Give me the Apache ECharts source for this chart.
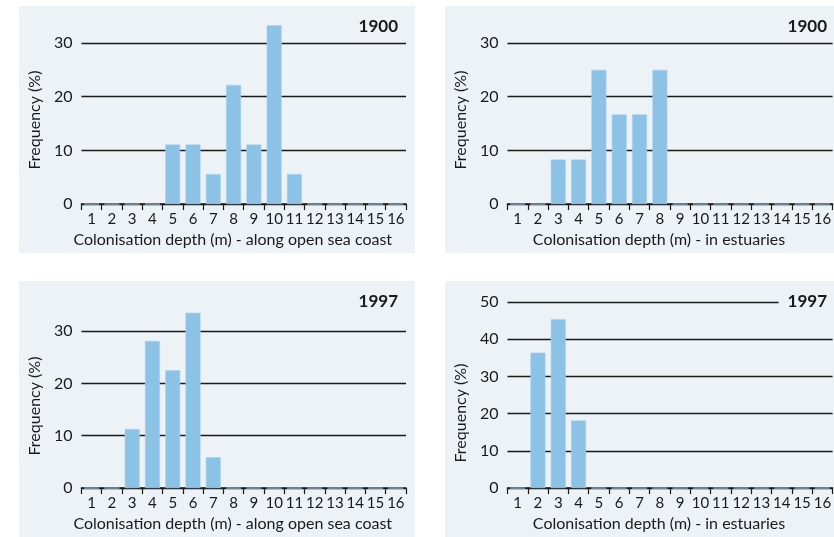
<!DOCTYPE html>
<html>
<head>
<meta charset="utf-8">
<script src="https://cdn.jsdelivr.net/npm/echarts@6/dist/echarts.min.js"></script>
<style>
  html, body { margin: 0; padding: 0; background: #fff; }
  body { width: 834px; height: 537px; position: relative; overflow: hidden; }
  .panel { position: absolute; background: #edf2f7; }
</style>
</head>
<body>
<div id="tl" class="panel" style="left:19px;top:6px;width:396px;height:247px"></div>
<div id="tr" class="panel" style="left:445px;top:6px;width:389px;height:247px"></div>
<div id="bl" class="panel" style="left:19px;top:281px;width:396px;height:256px"></div>
<div id="br" class="panel" style="left:445px;top:281px;width:389px;height:256px"></div>
<script>
// depth classes (m)
const depths = ['1', '2', '3', '4', '5', '6', '7', '8', '9', '10', '11', '12', '13', '14', '15', '16']

// frequency (%) per depth class
const seaCoast1900 = [0, 0, 0, 0, 11.1, 11.1, 5.6, 22.2, 11.1, 33.3, 5.6, 0, 0, 0, 0, 0]
const estuaries1900 = [0, 0, 8.3, 8.3, 25, 16.7, 16.7, 25, 0, 0, 0, 0, 0, 0, 0, 0]
const seaCoast1997 = [0, 0, 11.3, 28.1, 22.5, 33.5, 5.9, 0, 0, 0, 0, 0, 0, 0, 0, 0]
const estuaries1997 = [0, 36.4, 45.4, 18.2, 0, 0, 0, 0, 0, 0, 0, 0, 0, 0, 0, 0]

const coastName = 'Colonisation depth (m) - along open sea coast'
const estuaryName = 'Colonisation depth (m) - in estuaries'

const FONT = 'Lato, "Open Sans", sans-serif'
const BG = '#edf2f7'

function makeChart(id, cfg) {
  const chart = echarts.init(document.getElementById(id))
  chart.setOption({
    animation: false,
    backgroundColor: BG,
    textStyle: { fontFamily: FONT },
    title: {
      text: cfg.year,
      right: 0,
      top: cfg.titleTop,
      padding: [2, cfg.titleRight, 2, 9],
      backgroundColor: BG,
      textStyle: { fontFamily: FONT, fontSize: 17, fontWeight: 'bold', color: '#1a1a1a', lineHeight: 16 }
    },
    grid: cfg.grid,
    xAxis: {
      type: 'category',
      data: depths,
      name: cfg.xName,
      nameLocation: 'middle',
      nameGap: 24,
      nameTextStyle: { fontSize: 16, color: '#1a1a1a', padding: [0, 22, 0, 0] },
      axisLine: { lineStyle: { color: '#1a1a1a', width: 1.5 } },
      axisTick: { show: true, length: 6, lineStyle: { color: '#1a1a1a', width: 1.2 } },
      axisLabel: { color: '#1a1a1a', fontSize: 15, margin: 8, interval: 0 }
    },
    yAxis: {
      type: 'value',
      min: 0,
      max: cfg.yMax,
      interval: 10,
      name: 'Frequency (%)',
      nameLocation: 'middle',
      nameGap: cfg.yNameGap,
      nameTextStyle: { fontSize: 16, color: '#1a1a1a', padding: cfg.yNamePad },
      axisLine: { show: false },
      axisTick: { show: false },
      axisLabel: { color: '#1a1a1a', fontSize: 16, margin: 9 },
      splitLine: { lineStyle: { color: '#1a1a1a', width: 1.3 } }
    },
    series: [{
      type: 'bar',
      data: cfg.values,
      barWidth: 15,
      clip: false,
      itemStyle: { color: '#8cc2e5', borderColor: '#a9d2ee', borderWidth: 0.6 }
    }]
  })
}

makeChart('tl', {
  year: '1900', titleTop: 11, titleRight: 17,
  grid: { left: 59, right: 9, top: 37, bottom: 48 },
  xName: coastName, yMax: 30, yNameGap: 38, yNamePad: [0, 0, 0, 7],
  values: seaCoast1900
})
makeChart('tr', {
  year: '1900', titleTop: 11, titleRight: 7,
  grid: { left: 59, right: 1, top: 37, bottom: 47 },
  xName: estuaryName, yMax: 30, yNameGap: 34, yNamePad: [0, 0, 0, 7],
  values: estuaries1900
})
makeChart('bl', {
  year: '1997', titleTop: 11, titleRight: 17,
  grid: { left: 59, right: 9, top: 50, bottom: 41 },
  xName: coastName, yMax: 30, yNameGap: 38, yNamePad: [0, 0, 0, 7],
  values: seaCoast1997
})
makeChart('br', {
  year: '1997', titleTop: 11, titleRight: 7,
  grid: { left: 59, right: 1, top: 21, bottom: 43 },
  xName: estuaryName, yMax: 50, yNameGap: 34, yNamePad: [0, 36, 0, 0],
  values: estuaries1997
})
</script>
</body>
</html>
